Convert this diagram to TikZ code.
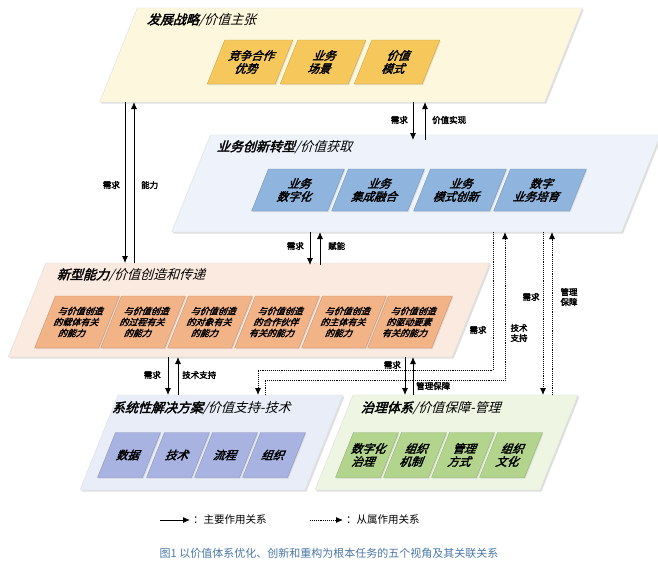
\documentclass[tikz,border=0pt]{standalone}
\usepackage{fontspec}
\setmainfont{Noto Sans CJK SC}[AutoFakeBold=2.5]
\usetikzlibrary{arrows.meta,shadows}
\definecolor{l1}{HTML}{FDF8DD}\definecolor{b1}{HTML}{F6C85C}
\definecolor{l2}{HTML}{EEF3FB}\definecolor{b2}{HTML}{8FB4DD}
\definecolor{l3}{HTML}{FBEADF}\definecolor{b3}{HTML}{F2B387}
\definecolor{l4}{HTML}{E9EDF8}\definecolor{b4}{HTML}{A8B3E2}
\definecolor{l5}{HTML}{EEF5E3}\definecolor{b5}{HTML}{B2D48C}
\definecolor{cap}{HTML}{4A78A8}
\tikzset{
 layer/.style={xslant=0.4,draw=gray!25,fill=#1,minimum height=94pt,inner sep=0pt,drop shadow={opacity=0.25,shadow xshift=1.5pt,shadow yshift=-1.5pt}},
 box/.style={xslant=0.4,fill=#1,draw=#1!80!black,line width=0.3pt,inner sep=0pt,align=center,font=\bfseries\fontsize{11.5}{13}\selectfont,drop shadow={opacity=0.2,shadow xshift=1pt,shadow yshift=-1pt}},
 sbox/.style={box=#1,font=\bfseries\fontsize{9}{11}\selectfont},
 ttl/.style={xslant=0.3,anchor=west,font=\fontsize{13}{15}\selectfont,inner sep=0pt},
 lab/.style={font=\bfseries\fontsize{8.5}{10}\selectfont,inner sep=1pt,align=left},
 mainar/.style={-{Latex[length=7pt,width=6pt]},line width=0.9pt},
 subar/.style={-{Latex[length=7pt,width=6pt]},line width=0.9pt,densely dotted},
}
\begin{document}
\begin{tikzpicture}[x=1pt,y=-1pt]
\useasboundingbox[fill=white] (0,0) rectangle (658,566);
% layers
\node[layer=l1,minimum width=445pt] (L1) at (341,55) {};
\node[layer=l2,minimum width=450pt,minimum height=97pt] (L2) at (416,183.5) {};
\node[layer=l3,minimum width=444pt] (L3) at (249,310) {};
\node[layer=l4,minimum width=225pt,minimum height=95pt] (L4) at (211.5,442.5) {};
\node[layer=l5,minimum width=225pt,minimum height=95pt] (L5) at (446.5,442.5) {};
% titles
\node[ttl] (T1) at (148,20) {\textbf{发展战略}/价值主张};
\node[ttl] (T2) at (218,147) {\textbf{业务创新转型}/价值获取};
\node[ttl] (T3) at (58,275) {\textbf{新型能力}/价值创造和传递};
\node[ttl] (T4) at (113,408) {\textbf{系统性解决方案}/价值支持-技术};
\node[ttl] (T5) at (362,408) {\textbf{治理体系}/价值保障-管理};
% boxes
\foreach \x/\t [count=\i] in {250/竞争合作\\优势,323/业务\\场景,397/价值\\模式}
  \node[box=b1,minimum width=68pt,minimum height=44pt] (a\i) at (\x,62) {\t};
\foreach \x/\t [count=\i] in {298/业务\\数字化,378/业务\\集成融合,460/业务\\模式创新,540/数字\\业务培育}
  \node[box=b2,minimum width=76pt,minimum height=42pt] (b\i) at (\x,190) {\t};
\foreach \x/\t [count=\i] in {77/与价值创造\\的载体有关\\的能力,143/与价值创造\\的过程有关\\的能力,210/与价值创造\\的对象有关\\的能力,277/与价值创造\\的合作伙伴\\有关的能力,344/与价值创造\\的主体有关\\的能力,410/与价值创造\\的驱动要素\\有关的能力}
  \node[sbox=b3,minimum width=64pt,minimum height=52pt] (c\i) at (\x,322) {\t};
\foreach \x/\t [count=\i] in {129/数据,178/技术,226/流程,274/组织}
  \node[box=b4,minimum width=45pt,minimum height=45pt] (d\i) at (\x,455) {\t};
\foreach \x/\t [count=\i] in {367/数字化\\治理,415/组织\\机制,463/管理\\方式,511/组织\\文化}
  \node[box=b5,minimum width=45pt,minimum height=45pt] (e\i) at (\x,455) {\t};
% main arrows
\draw[mainar] (125,102) -- (125,263);
\draw[mainar] (134,263) -- (134,102);
\node[lab,anchor=east] at (121,185) {需求};
\node[lab,anchor=west] at (140,185) {能力};
\draw[mainar] (413,102) -- (413,140);
\draw[mainar] (425,140) -- (425,102);
\node[lab,anchor=east] at (409,120) {需求};
\node[lab,anchor=west] at (431,120) {价值实现};
\draw[mainar] (310,232) -- (310,265);
\draw[mainar] (320,265) -- (320,232);
\node[lab,anchor=east] at (305,246) {需求};
\node[lab,anchor=west] at (327,246) {赋能};
\draw[mainar] (168,357) -- (168,395);
\draw[mainar] (178,395) -- (178,357);
\node[lab,anchor=east] at (162,375) {需求};
\node[lab,anchor=west] at (181,375) {技术支持};
\draw[mainar] (405,357) -- (405,395);
\draw[mainar] (413,395) -- (413,357);
\node[lab,anchor=east] at (402,365) {需求};
\node[lab,anchor=west] at (415,386) {管理保障};
% dotted
\draw[subar] (493,232) -- (493,370) -- (258,370) -- (258,395);
\draw[subar] (265,395) -- (265,380) -- (505,380) -- (505,232);
\draw[subar] (543,232) -- (543,395);
\draw[subar] (552,395) -- (552,232);
\node[lab] at (478,330) {需求};
\node[lab] at (519,333) {技术\\支持};
\node[lab] at (531,297) {需求};
\node[lab] at (569,297) {管理\\保障};
% legend
\draw[mainar] (160,520) -- (190,520);
\node[anchor=west,font=\fontsize{10.5}{12}\selectfont,inner sep=1pt] (lg1) at (192,520) {：主要作用关系};
\draw[subar] (310,520) -- (343,520);
\node[anchor=west,font=\fontsize{10.5}{12}\selectfont,inner sep=1pt] (lg2) at (345,520) {：从属作用关系};
\node[font=\fontsize{11}{12}\selectfont,text=cap] (cp) at (329,553) {图1 以价值体系优化、创新和重构为根本任务的五个视角及其关联关系};
\end{tikzpicture}
\end{document}
